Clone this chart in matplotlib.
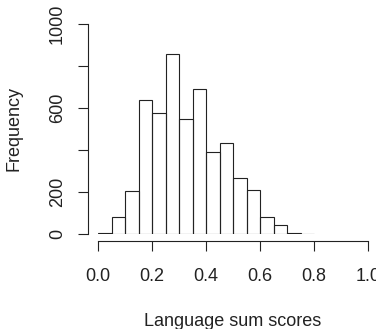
import matplotlib.pyplot as plt

plt.rcParams['font.family'] = ['Liberation Sans', 'DejaVu Sans']

# histogram of language sum scores, bins of width 0.05
bin_edges = [0.0, 0.05, 0.10, 0.15, 0.20, 0.25, 0.30, 0.35, 0.40,
             0.45, 0.50, 0.55, 0.60, 0.65, 0.70, 0.75, 0.80]
counts = [5, 81, 206, 638, 574, 856, 547, 688, 389, 432, 267, 210, 81, 44, 6, 0]
x_ticks = [0.0, 0.2, 0.4, 0.6, 0.8, 1.0]
y_ticks = [0, 200, 400, 600, 800, 1000]
y_tick_labels = ['0', '200', '', '600', '', '1000']

W, H = 376, 329
fig = plt.figure(figsize=(W / 100, H / 100), dpi=100)
ax = fig.add_axes([98 / W, (H - 234) / H, 270 / W, 210.3 / H])

widths = [bin_edges[i + 1] - bin_edges[i] for i in range(len(counts))]
ax.bar(bin_edges[:-1], counts, width=widths, align='edge',
       fill=False, edgecolor='#222222', linewidth=0.8)

ax.set_xlim(0, 1)
ax.set_ylim(0, 1000)
ax.set_xticks(x_ticks)
ax.set_xticklabels(['%.1f' % v for v in x_ticks])
ax.set_yticks(y_ticks)
ax.set_yticklabels(y_tick_labels)

for s in ['top', 'right']:
    ax.spines[s].set_visible(False)
ax.spines['bottom'].set_position(('outward', 5))
ax.spines['left'].set_position(('outward', 7.5))
ax.spines['bottom'].set_bounds(0, 1)
ax.spines['left'].set_bounds(0, 1000)
for s in ['bottom', 'left']:
    ax.spines[s].set_linewidth(0.8)
    ax.spines[s].set_color('#222222')

ax.tick_params(axis='both', direction='out', length=7.5, width=0.8,
               color='#222222', labelsize=13, labelcolor='#222222')
ax.tick_params(axis='x', pad=12)
ax.tick_params(axis='y', pad=8, labelrotation=90)
for lab in ax.get_yticklabels():
    lab.set_va('center')

ax.set_xlabel('Language sum scores', fontsize=13, color='#222222')
ax.set_ylabel('Frequency', fontsize=13, color='#222222')
ax.xaxis.set_label_coords(0.5, -0.376)
ax.yaxis.set_label_coords(-0.278, 0.5)

fig.savefig('out.png', dpi=100)
